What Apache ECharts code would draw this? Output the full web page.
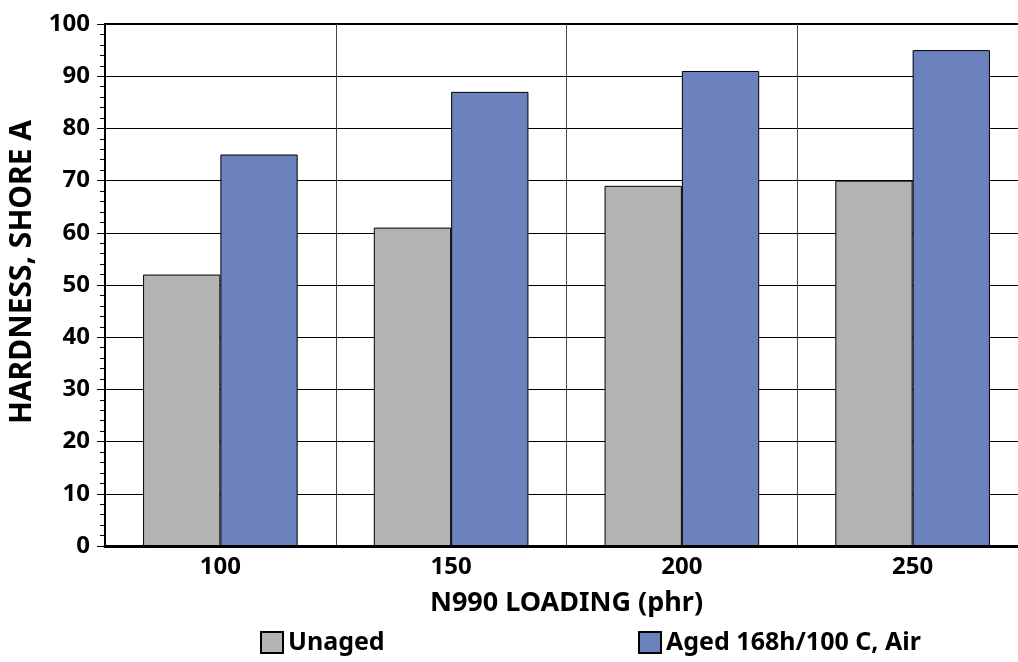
<!DOCTYPE html>
<html><head><meta charset="utf-8">
<script src="https://cdn.jsdelivr.net/npm/echarts@6/dist/echarts.min.js"></script>
<style>html,body{margin:0;padding:0;background:#fff}#c{width:1018px;height:662px}</style>
</head><body><div id="c"></div>
<script>
const categories = ['100', '150', '200', '250'];
const unaged = [52, 61, 69, 70];
const aged = [75, 87, 91, 95];
const seriesNames = ['Unaged', 'Aged 168h/100 C, Air'];
const yTicks = [0, 10, 20, 30, 40, 50, 60, 70, 80, 90, 100];

const FONT = '"Noto Sans", "Open Sans", sans-serif';
const chart = echarts.init(document.getElementById('c'));
chart.setOption({
  animation: false,
  grid: { left: 105, top: 24, height: 522, width: 923, outerBoundsMode: 'none', containLabel: false,
          show: true, borderColor: '#000', borderWidth: 2, backgroundColor: 'transparent' },
  legend: [
    { data: [seriesNames[0]], left: 260, top: 630, padding: 0, icon: 'rect', itemWidth: 22, itemHeight: 21, itemGap: 8,
      textStyle: { fontFamily: FONT, fontWeight: 'bold', fontSize: 25, color: '#000' } },
    { data: [seriesNames[1]], left: 638, top: 630, padding: 0, icon: 'rect', itemWidth: 22, itemHeight: 21, itemGap: 8,
      textStyle: { fontFamily: FONT, fontWeight: 'bold', fontSize: 25, color: '#000' } }
  ],
  xAxis: {
    type: 'category', data: categories,
    name: 'N990 LOADING (phr)', nameLocation: 'middle', nameGap: 44,
    nameTextStyle: { fontFamily: FONT, fontWeight: 'bold', fontSize: 27, color: '#000' },
    axisLine: { lineStyle: { color: '#000', width: 3 } },
    axisTick: { show: false },
    axisLabel: { fontFamily: FONT, fontWeight: 'bold', fontSize: 24, color: '#000', margin: 9 },
    splitLine: { show: true, lineStyle: { color: '#444', width: 1 } }
  },
  yAxis: {
    type: 'value', min: yTicks[0], max: yTicks[yTicks.length - 1], interval: 10,
    name: 'HARDNESS, SHORE A', nameLocation: 'middle', nameGap: 66, nameRotate: 90,
    nameTextStyle: { fontFamily: FONT, fontWeight: 'bold', fontSize: 30, color: '#000', padding: [0, 0, 0, 26] },
    axisLine: { show: true, lineStyle: { color: '#000', width: 2 } },
    axisTick: { show: true, length: 8, lineStyle: { color: '#000', width: 1 } },
    minorTick: { show: true, splitNumber: 5, length: 5, lineStyle: { color: '#000', width: 1 } },
    axisLabel: { fontFamily: FONT, fontWeight: 'bold', fontSize: 24, color: '#000', margin: 15 },
    splitLine: { show: true, lineStyle: { color: '#000', width: 1 } }
  },
  series: [
    { name: seriesNames[0], type: 'bar', data: unaged, barGap: '0%', barCategoryGap: '33%',
      itemStyle: { color: '#b3b3b3', borderColor: '#000', borderWidth: 1 } },
    { name: seriesNames[1], type: 'bar', data: aged, barGap: '0%', barCategoryGap: '33%',
      itemStyle: { color: '#6b82bd', borderColor: '#000', borderWidth: 1 } }
  ]
});
</script></body></html>
